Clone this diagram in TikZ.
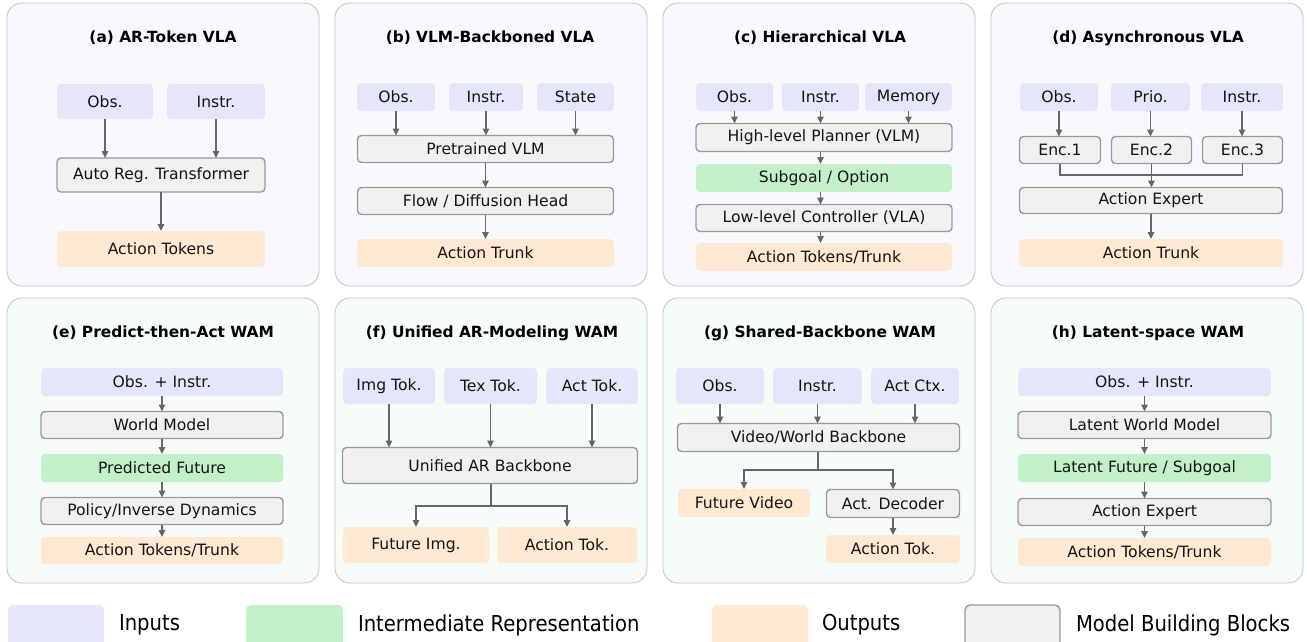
\documentclass[tikz,border=0pt]{standalone}
\usepackage{fontspec}
\setmainfont{DejaVu Sans}
\usetikzlibrary{arrows.meta}
\definecolor{inpc}{HTML}{E6E6FA}
\definecolor{midc}{HTML}{C3F0C9}
\definecolor{outc}{HTML}{FFE9D2}
\definecolor{blkc}{HTML}{F0F0F0}
\definecolor{blkd}{HTML}{999999}
\definecolor{arrc}{HTML}{666666}
\definecolor{pand}{HTML}{C8C8C8}
\definecolor{pantop}{HTML}{FAF8FF}
\definecolor{panbot}{HTML}{F6FCF8}
\definecolor{txtc}{HTML}{141414}
\begin{document}
\begin{tikzpicture}[x=1pt,y=-1pt,
  every node/.style={font=\fontsize{15.6}{18}\selectfont, text=txtc, inner sep=0pt, outer sep=0pt},
  sz/.style 2 args={minimum width=#1pt, minimum height=#2pt},
  inp/.style={fill=inpc, rounded corners=4pt},
  mid/.style={fill=midc, rounded corners=4pt},
  outp/.style={fill=outc, rounded corners=4pt},
  blk/.style={fill=blkc, draw=blkd, line width=1.4pt, rounded corners=4pt},
  paneltop/.style={fill=pantop, draw=pand, line width=0.9pt, rounded corners=15pt},
  panelbot/.style={fill=panbot, draw=pand, line width=0.9pt, rounded corners=15pt},
  ttl/.style={font=\bfseries\fontsize{15.4}{18}\selectfont, text=black},
  arr/.style={draw=arrc, line width=1.1pt, -{Triangle[length=7pt,width=6.5pt]}},
  ln/.style={draw=arrc, line width=1.1pt},
  lgd/.style={font=\fontsize{19.6}{22}\selectfont, text=black, anchor=west}
]
\useasboundingbox (0,0) rectangle (1307,641);
\fill[white] (0,0) rectangle (1307,641);

% panels
\foreach \px in {7,335,663,991}{
  \draw[paneltop] (\px,3) rectangle ++(312,283);
  \draw[panelbot] (\px,298) rectangle ++(312,285);
}

% ---------- (a)
\node[ttl] (ta) at (163,38) {(a) AR-Token VLA};
\node[inp, sz={96}{35}] (a1) at (105,101.5) {Obs.};
\node[inp, sz={98}{35}] (a2) at (216,101.5) {Instr.};
\node[blk, sz={208}{34}] (a3) at (161,175) {Auto Reg. Transformer};
\node[outp, sz={208}{36}] (a4) at (161,249) {Action Tokens};
\draw[arr] (a1.south) -- (a1.south |- a3.north);
\draw[arr] (a2.south) -- (a2.south |- a3.north);
\draw[arr] (a3.south) -- (a4.north);

% ---------- (b)
\node[ttl] (tb) at (490,38) {(b) VLM-Backboned VLA};
\node[inp, sz={78}{28}] (b1) at (396,97) {Obs.};
\node[inp, sz={74}{28}] (b2) at (486,97) {Instr.};
\node[inp, sz={77}{28}] (b3) at (575.5,97) {State};
\node[blk, sz={256}{27}] (b4) at (485.5,149) {Pretrained VLM};
\node[blk, sz={256}{27}] (b5) at (485.5,201) {Flow / Diffusion Head};
\node[outp, sz={257}{28}] (b6) at (485.5,253) {Action Trunk};
\draw[arr] (b1.south) -- (b1.south |- b4.north);
\draw[arr] (b2.south) -- (b2.south |- b4.north);
\draw[arr] (b3.south) -- (b3.south |- b4.north);
\draw[arr] (b4.south) -- (b5.north);
\draw[arr] (b5.south) -- (b6.north);

% ---------- (c)
\node[ttl] (tc) at (820,38) {(c) Hierarchical VLA};
\node[inp, sz={77}{28}] (c1) at (734.5,97) {Obs.};
\node[inp, sz={77}{28}] (c2) at (820.5,97) {Instr.};
\node[inp, sz={87}{28}] (c3) at (908.5,97) {Memory};
\node[blk, sz={256}{28}] (c4) at (824,137.5) {High-level Planner (VLM)};
\node[mid, sz={256}{28}] (c5) at (824,178) {Subgoal / Option};
\node[blk, sz={256}{27}] (c6) at (824,218) {Low-level Controller (VLA)};
\node[outp, sz={256}{28}] (c7) at (824,257) {Action Tokens/Trunk};
\draw[arr] (c1.south) -- (c1.south |- c4.north);
\draw[arr] (c2.south) -- (c2.south |- c4.north);
\draw[arr] (c3.south) -- (c3.south |- c4.north);
\draw[arr] (c2 |- c4.south) -- (c2 |- c5.north);
\draw[arr] (c2 |- c5.south) -- (c2 |- c6.north);
\draw[arr] (c2 |- c6.south) -- (c2 |- c7.north);

% ---------- (d)
\node[ttl] (td) at (1148,38) {(d) Asynchronous VLA};
\node[inp, sz={78}{28}] (d1) at (1059,97) {Obs.};
\node[inp, sz={79}{28}] (d2) at (1150.5,97) {Prio.};
\node[inp, sz={82}{28}] (d3) at (1242,97) {Instr.};
\node[blk, sz={81}{27}] (d4) at (1060,150) {Enc.1};
\node[blk, sz={80}{27}] (d5) at (1151.5,150) {Enc.2};
\node[blk, sz={80}{27}] (d6) at (1242.5,150) {Enc.3};
\node[blk, sz={263}{26}] (d7) at (1151,200.5) {Action Expert};
\node[outp, sz={264}{28}] (d8) at (1151,253) {Action Trunk};
\draw[arr] (d1.south) -- (d1.south |- d4.north);
\draw[arr] (d2.south) -- (d2.south |- d5.north);
\draw[arr] (d3.south) -- (d3.south |- d6.north);
\coordinate (dm) at (1151,175);
\draw[ln] (d4.south) |- (dm) -| (d6.south);
\draw[arr] (d5.south) -- (d5.south |- d7.north);
\draw[arr] (d7.south) -- (d8.north);

% ---------- (e)
\node[ttl] (te) at (163,333) {(e) Predict-then-Act WAM};
\node[inp, sz={242}{28}] (e1) at (162,382) {Obs. + Instr.};
\node[blk, sz={242}{27}] (e2) at (162,425) {World Model};
\node[mid, sz={242}{28}] (e3) at (162,468) {Predicted Future};
\node[blk, sz={242}{27}] (e4) at (162,511) {Policy/Inverse Dynamics};
\node[outp, sz={242}{27}] (e5) at (162,550.5) {Action Tokens/Trunk};
\draw[arr] (e1.south) -- (e2.north);
\draw[arr] (e2.south) -- (e3.north);
\draw[arr] (e3.south) -- (e4.north);
\draw[arr] (e4.south) -- (e5.north);

% ---------- (f)
\node[ttl] (tf) at (492,333) {(f) Unified AR-Modeling WAM};
\node[inp, sz={92}{36}] (f1) at (389,386) {Img Tok.};
\node[inp, sz={93}{36}] (f2) at (490.5,386) {Tex Tok.};
\node[inp, sz={92}{36}] (f3) at (592,386) {Act Tok.};
\node[blk, sz={295}{36}] (f4) at (490,465.5) {Unified AR Backbone};
\node[outp, sz={146}{36}] (f5) at (416,545) {Future Img.};
\node[outp, sz={140}{36}] (f6) at (567,545) {Action Tok.};
\draw[arr] (f1.south) -- (f1.south |- f4.north);
\draw[arr] (f2.south) -- (f2.south |- f4.north);
\draw[arr] (f3.south) -- (f3.south |- f4.north);
\coordinate (fm) at (491,506);
\draw[ln] (f4.south -| fm) -- (fm);
\draw[arr] (fm) -| (f5.north);
\draw[arr] (fm) -| (f6.north);

% ---------- (g)
\node[ttl] (tg) at (820,333) {(g) Shared-Backbone WAM};
\node[inp, sz={88}{36}] (g1) at (720,386) {Obs.};
\node[inp, sz={89}{36}] (g2) at (817.5,386) {Instr.};
\node[inp, sz={88}{36}] (g3) at (915,386) {Act Ctx.};
\node[blk, sz={282}{28}] (g4) at (818.5,437.5) {Video/World Backbone};
\node[outp, sz={132}{28}] (g5) at (744,503) {Future Video};
\node[blk, sz={133}{28}] (g6) at (893,503.5) {Act. Decoder};
\node[outp, sz={134}{28}] (g7) at (893,549) {Action Tok.};
\draw[arr] (g1.south) -- (g1.south |- g4.north);
\draw[arr] (g2.south) -- (g2.south |- g4.north);
\draw[arr] (g3.south) -- (g3.south |- g4.north);
\coordinate (gm) at (818,470);
\draw[ln] (g4.south -| gm) -- (gm);
\draw[arr] (gm) -| (g5.north);
\draw[arr] (gm) -| (g6.north);
\draw[arr] (g6.south) -- (g7.north);

% ---------- (h)
\node[ttl] (th) at (1148,333) {(h) Latent-space WAM};
\node[inp, sz={253}{28}] (h1) at (1144.5,382) {Obs. + Instr.};
\node[blk, sz={253}{27}] (h2) at (1144.5,425) {Latent World Model};
\node[mid, sz={253}{28}] (h3) at (1144.5,468) {Latent Future / Subgoal};
\node[blk, sz={253}{27}] (h4) at (1144.5,512) {Action Expert};
\node[outp, sz={253}{28}] (h5) at (1144.5,552) {Action Tokens/Trunk};
\draw[arr] (h1.south) -- (h2.north);
\draw[arr] (h2.south) -- (h3.north);
\draw[arr] (h3.south) -- (h4.north);
\draw[arr] (h4.south) -- (h5.north);

% ---------- legend
\begin{scope}
\clip (0,0) rectangle (1307,641);
\fill[inpc, rounded corners=5pt] (8,605) rectangle (104,648);
\fill[midc, rounded corners=5pt] (246,605) rectangle (343,648);
\fill[outc, rounded corners=5pt] (712,605) rectangle (808,648);
\draw[blk, rounded corners=5pt] (965,605) rectangle (1060,648);
\end{scope}
\node[lgd] (l1) at (119,625) {\scalebox{1}[1.12]{Inputs}};
\node[lgd] (l2) at (358,625) {\scalebox{1}[1.12]{Intermediate Representation}};
\node[lgd] (l3) at (822,625) {\scalebox{1}[1.12]{Outputs}};
\node[lgd] (l4) at (1076,625) {\scalebox{1}[1.12]{Model Building Blocks}};
\end{tikzpicture}
\end{document}
